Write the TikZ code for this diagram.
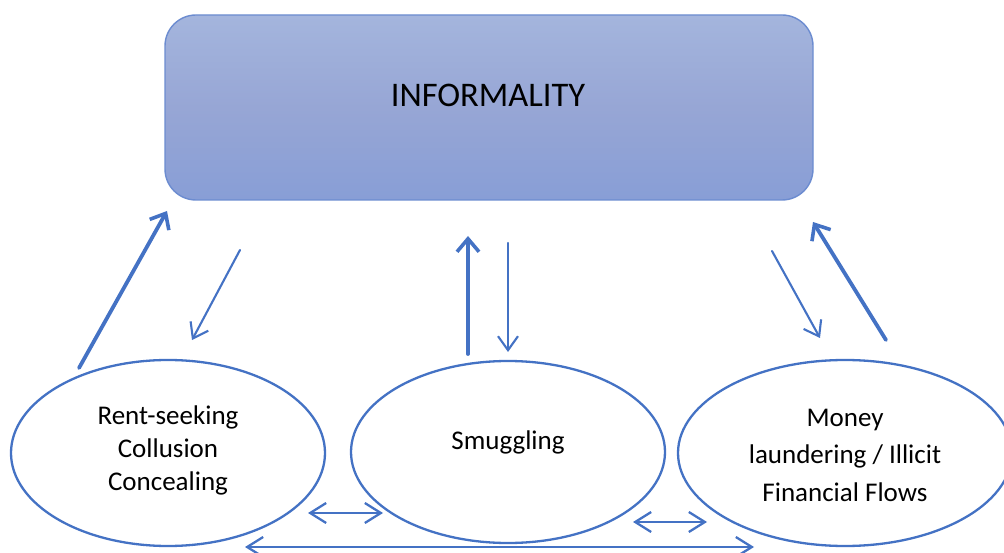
\documentclass[tikz,border=0pt]{standalone}
\usepackage{fontspec}
\setmainfont{Carlito}
\usetikzlibrary{shapes.geometric,arrows.meta}
\definecolor{lineblue}{RGB}{68,114,196}
\definecolor{boxtop}{RGB}{164,181,221}
\definecolor{boxmid}{RGB}{151,166,213}
\definecolor{boxbot}{RGB}{136,158,214}
\definecolor{boxedge}{RGB}{108,140,208}
\tikzset{
  oval/.style={ellipse, draw=lineblue, line width=2.3pt, inner sep=0pt, fill=white},
  ovaltext/.style={align=center, font=\fontsize{27}{33}\selectfont, text=black},
  thickarrow/.style={draw=lineblue, line width=3.8pt, line cap=round, -{Straight Barb[length=13pt,width=22pt,line width=3.6pt]}},
  thinarrow/.style={draw=lineblue, line width=2.1pt, line cap=round, -{Straight Barb[length=14pt,width=20pt,line width=2.1pt]}},
  duoarrow/.style={draw=lineblue, line width=2.3pt, {Straight Barb[length=16pt,width=20pt,line width=2.3pt]}-{Straight Barb[length=16pt,width=20pt,line width=2.3pt]}},
}
\begin{document}
\begin{tikzpicture}[x=1pt,y=-1pt]
\useasboundingbox (0,0) rectangle (1004,553);
\clip (0,0) rectangle (1004,553);
% top box
\node (inf) [draw=boxedge, line width=1.4pt, rounded corners=31pt, minimum width=648pt, minimum height=185pt,
  top color=boxtop, bottom color=boxbot, middle color=boxmid, inner sep=0pt] at (489,107.5) {};
\node (inftext) [font=\fontsize{34.5}{40}\selectfont, text=black] at (488,95) {INFORMALITY};
% ellipses
\node (left) [oval, minimum width=314pt, minimum height=186pt] at (168,453) {};
\node (mid) [oval, minimum width=314pt, minimum height=182pt] at (508,452) {};
\node (right) [oval, minimum width=334pt, minimum height=186pt] at (845,453) {};
\node (lefttext) [ovaltext] at (168,450) {Rent-seeking\\Collusion\\Concealing};
\node (midtext) [ovaltext] at (508,442) {Smuggling};
\node (righttext) [ovaltext, font=\fontsize{27}{37.5}\selectfont] at (845,455) {Money\\laundering / Illicit\\Financial Flows};
% arrow endpoints
\coordinate (l1s) at (79,368);  \coordinate (l1e) at (167,211);
\coordinate (l2s) at (240,250); \coordinate (l2e) at (192,340);
\coordinate (m1s) at (468,354); \coordinate (m1e) at (468,236);
\coordinate (m2s) at (508,243); \coordinate (m2e) at (508,352);
\coordinate (r1s) at (772,251); \coordinate (r1e) at (820,338);
\coordinate (r2s) at (886,340); \coordinate (r2e) at (813,222);
\coordinate (b1s) at (308,513); \coordinate (b1e) at (383,513);
\coordinate (b2s) at (633,522); \coordinate (b2e) at (707,522);
\coordinate (b3s) at (245,547); \coordinate (b3e) at (754,547);
\draw[thickarrow] (l1s) -- (l1e);
\draw[thinarrow] (l2s) -- (l2e);
\draw[thickarrow] (m1s) -- (m1e);
\draw[thinarrow] (m2s) -- (m2e);
\draw[thinarrow] (r1s) -- (r1e);
\draw[thickarrow] (r2s) -- (r2e);
\draw[duoarrow] (b1s) -- (b1e);
\draw[duoarrow] (b2s) -- (b2e);
\draw[duoarrow] (b3s) -- (b3e);
\end{tikzpicture}
\end{document}
